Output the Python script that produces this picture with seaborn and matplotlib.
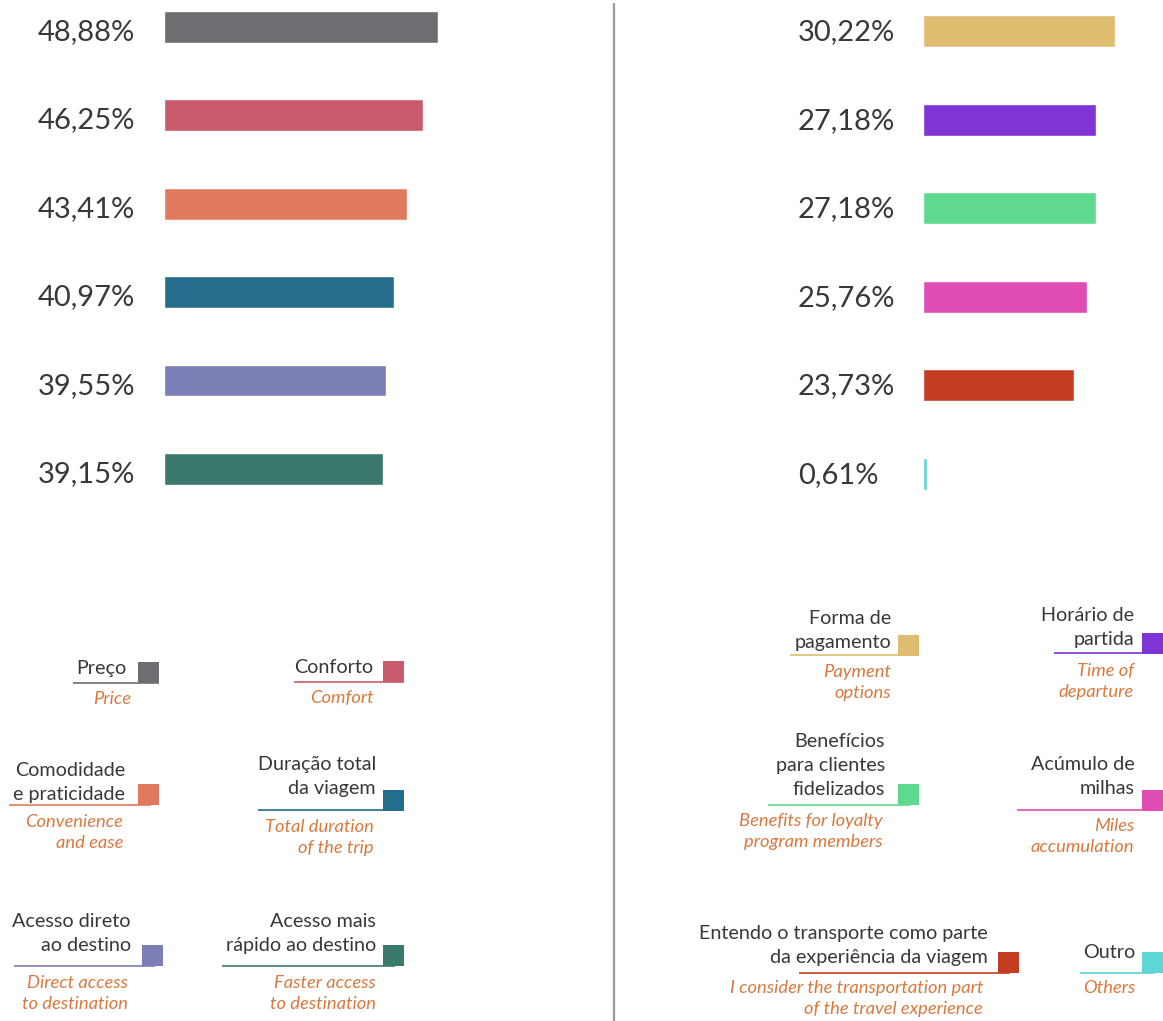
import matplotlib
matplotlib.use("Agg")
import matplotlib.pyplot as plt
from matplotlib.patches import Rectangle
from matplotlib.transforms import blended_transform_factory, offset_copy
import seaborn as sns
import pandas as pd

sns.set_theme(style="white")
plt.rcParams['font.family'] = ['Lato', 'DejaVu Sans']

# ---------------- data ----------------
left_categories = ["Preço", "Conforto", "Comodidade e praticidade", "Duração total da viagem",
                   "Acesso direto ao destino", "Acesso mais rápido ao destino"]
left_values = [48.88, 46.25, 43.41, 40.97, 39.55, 39.15]
left_colors = ["#6d6e72", "#c95b6c", "#e07a5f", "#256d8c", "#7b7fb6", "#397a6d"]

right_categories = ["Forma de pagamento", "Horário de partida", "Benefícios para clientes fidelizados",
                    "Acúmulo de milhas", "Entendo o transporte como parte da experiência da viagem", "Outro"]
right_values = [30.22, 27.18, 27.18, 25.76, 23.73, 0.61]
right_colors = ["#dfbd70", "#7f34d6", "#5fd98f", "#e24db5", "#c43d22", "#5ed6d8"]

left_pt = ["Preço", "Conforto", "Comodidade\ne praticidade", "Duração total\nda viagem",
           "Acesso direto\nao destino", "Acesso mais\nrápido ao destino"]
left_en = ["Price", "Comfort", "Convenience\nand ease", "Total duration\nof the trip",
           "Direct access\nto destination", "Faster access\nto destination"]
right_pt = ["Forma de\npagamento", "Horário de\npartida", "Benefícios\npara clientes\nfidelizados",
            "Acúmulo de\nmilhas", "Entendo o transporte como parte\nda experiência da viagem", "Outro"]
right_en = ["Payment\noptions", "Time of\ndeparture", "Benefits for loyalty\nprogram members",
            "Miles\naccumulation", "I consider the transportation part\nof the travel experience", "Others"]

W, H = 1163, 1021
fig = plt.figure(figsize=(W / 100, H / 100), dpi=100)

TXT = "#383838"
EN = "#d9793f"


def fmt(v):
    return f"{v:.2f}".replace(".", ",") + "%"


def bar_panel(x0_px, x_scale, xmax, y_top, y_bot, ylim, cats, vals, cols, label_x, label_dy):
    width_px = xmax * x_scale
    ax = fig.add_axes([x0_px / W, 1 - y_bot / H, width_px / W, (y_bot - y_top) / H])
    df = pd.DataFrame({"cat": cats, "val": vals})
    sns.barplot(data=df, x="val", y="cat", hue="cat", palette=cols, orient="h",
                width=0.36, saturation=1, legend=False, ax=ax, order=cats, hue_order=cats)
    ax.set_xlim(0, xmax)
    ax.set_ylim(*ylim)
    ax.set_axis_off()
    tr = blended_transform_factory(fig.transFigure, ax.transData)
    tr = offset_copy(tr, fig=fig, x=0, y=-label_dy, units="dots")
    for i, v in enumerate(vals):
        ax.text(label_x / W, i, fmt(v), transform=tr, ha="left", va="center",
                fontsize=21, color=TXT, clip_on=False)
    return ax


bar_panel(164, 5.605, 60, 0.5, 522, (5.6, -0.3), left_categories, left_values, left_colors, 38, 5)
bar_panel(923, 6.35, 35, 0.0, 527, (5.6, -0.35), right_categories, right_values, right_colors, 798, 1)

# overlay in pixel space for divider and legend
ov = fig.add_axes([0, 0, 1, 1])
ov.set_xlim(0, W)
ov.set_ylim(H, 0)
ov.set_axis_off()
ov.patch.set_alpha(0)

ov.plot([614, 614], [3, H], color="#9a9a9a", lw=1.6, solid_capstyle="butt")

# legend layout: square (x, y_top), underline (x0, x1, y), pt text right & baselines, en right & baselines
layout_left = [
    dict(sq=(138, 662), ul=(73, 159, 682.5), pr=126, pb=[674], er=131, eb=[704]),
    dict(sq=(383, 661), ul=(294, 404, 681.5), pr=373, pb=[673], er=374, eb=[703]),
    dict(sq=(138, 784), ul=(9, 151, 805), pr=125, pb=[776, 800], er=123, eb=[827, 848]),
    dict(sq=(383, 790), ul=(258, 404, 810), pr=376, pb=[770, 794], er=374, eb=[832, 853]),
    dict(sq=(142, 945), ul=(14, 155, 966), pr=131, pb=[927, 951], er=128, eb=[988, 1009]),
    dict(sq=(383, 945), ul=(222, 395, 966), pr=376, pb=[927, 951], er=376, eb=[988, 1009]),
]
layout_right = [
    dict(sq=(898, 635), ul=(790, 919, 655), pr=891, pb=[624, 648], er=891, eb=[677, 698]),
    dict(sq=(1142, 633), ul=(1054, 1142, 653), pr=1134, pb=[621, 645], er=1134, eb=[676, 697]),
    dict(sq=(898, 784), ul=(768, 910, 805), pr=885, pb=[747, 771, 795], er=883, eb=[826, 847]),
    dict(sq=(1142, 790), ul=(1017, 1142, 810), pr=1135, pb=[770, 794], er=1134, eb=[831, 852]),
    dict(sq=(998, 952), ul=(799, 1010, 973), pr=988, pb=[939, 963], er=983, eb=[993, 1014]),
    dict(sq=(1142, 952), ul=(1080, 1155, 973), pr=1135, pb=[958], er=1135, eb=[993]),
]

SQ = 21
for pts, ens, cols, lays in [(left_pt, left_en, left_colors, layout_left),
                             (right_pt, right_en, right_colors, layout_right)]:
    for pt, en, col, L in zip(pts, ens, cols, lays):
        sx, sy = L["sq"]
        ov.add_patch(Rectangle((sx, sy), SQ, SQ, facecolor=col, edgecolor="none"))
        x0, x1, uy = L["ul"]
        ov.plot([x0, x1], [uy, uy], color=col, lw=1.2, solid_capstyle="butt")
        for line, b in zip(pt.split("\n"), L["pb"]):
            ov.text(L["pr"], b, line, ha="right", va="baseline", fontsize=14.2, color=TXT)
        for line, b in zip(en.split("\n"), L["eb"]):
            ov.text(L["er"], b, line, ha="right", va="baseline", fontsize=13.2,
                    color=EN, style="italic")

fig.savefig("out.png", dpi=100, facecolor="white")
